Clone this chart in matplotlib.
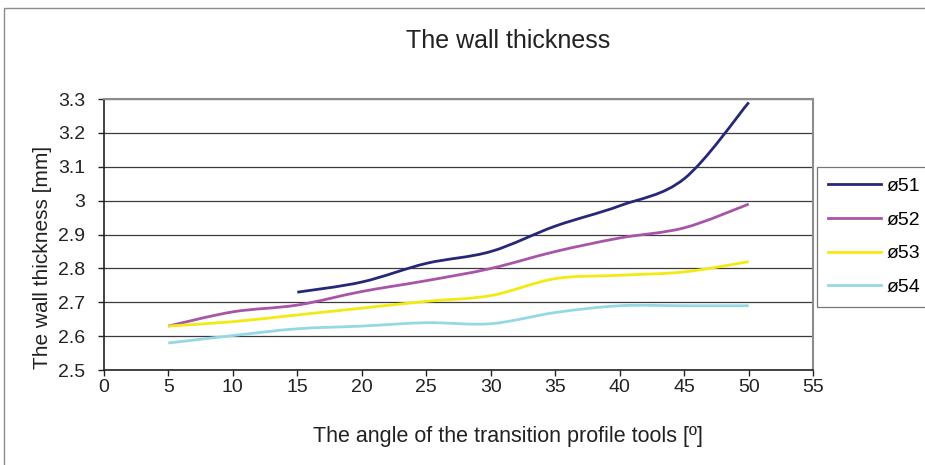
import numpy as np
import matplotlib.pyplot as plt
from matplotlib.path import Path
from matplotlib.patches import PathPatch, Rectangle
from matplotlib.lines import Line2D

plt.rcParams['font.family'] = ['Liberation Sans', 'DejaVu Sans']

# Dữ liệu
angles = [5, 10, 15, 20, 25, 30, 35, 40, 45, 50]
angles_51 = [15, 20, 25, 30, 35, 40, 45, 50]
d51 = [2.73, 2.76, 2.815, 2.85, 2.925, 2.985, 3.065, 3.29]
d52 = [2.63, 2.672, 2.692, 2.732, 2.764, 2.80, 2.85, 2.89, 2.92, 2.99]
d53 = [2.63, 2.643, 2.663, 2.683, 2.703, 2.72, 2.77, 2.78, 2.79, 2.82]
d54 = [2.58, 2.602, 2.622, 2.63, 2.64, 2.637, 2.67, 2.69, 2.69, 2.69]
labels = ['ø51', 'ø52', 'ø53', 'ø54']
colors = ['#27277a', '#a855a8', '#f2ea10', '#94d8e4']


# Đường cong mượt kiểu Excel (Bezier Catmull-Rom)
def smooth_path(xs, ys):
    p = np.column_stack([xs, ys]).astype(float)
    p_ext = np.vstack([p[0], p, p[-1]])
    verts = [p[0]]
    codes = [Path.MOVETO]
    for i in range(1, len(p_ext) - 2):
        p0, p1, p2, p3 = p_ext[i - 1], p_ext[i], p_ext[i + 1], p_ext[i + 2]
        c1 = p1 + (p2 - p0) / 6.0
        c2 = p2 - (p3 - p1) / 6.0
        verts += [c1, c2, p2]
        codes += [Path.CURVE4] * 3
    return Path(verts, codes)


fig = plt.figure(figsize=(9.25, 4.65), dpi=100)
ax = fig.add_axes([0.1122, 0.204, 0.767, 0.583])

# Khung ngoài của biểu đồ
fig.patches.append(Rectangle((4 / 925, -0.1), 1.2, 1.1 - 8 / 465, transform=fig.transFigure,
                             fill=False, edgecolor='#8c8c8c', linewidth=1.0))

series = [(angles_51, d51), (angles, d52), (angles, d53), (angles, d54)]
for (xs, ys), c in zip(series, colors):
    ax.add_patch(PathPatch(smooth_path(xs, ys), facecolor='none', edgecolor=c,
                           linewidth=2.0, capstyle='butt', zorder=3))

ax.set_xlim(0, 55)
ax.set_ylim(2.5, 3.3)
ax.set_xticks(range(0, 56, 5))
ax.set_yticks(np.arange(2.5, 3.31, 0.1))
ax.set_yticklabels(['2.5', '2.6', '2.7', '2.8', '2.9', '3', '3.1', '3.2', '3.3'])
ax.tick_params(labelsize=14, length=4.5, width=1, colors='#222222')
ax.tick_params(axis='x', pad=2)
ax.tick_params(axis='y', pad=9)
ax.yaxis.grid(True, color='#3c3c3c', linewidth=0.9)
ax.set_axisbelow(True)

for s in ['top', 'right']:
    ax.spines[s].set_color('#8c8c8c')
    ax.spines[s].set_linewidth(1.5)
for s in ['left', 'bottom']:
    ax.spines[s].set_color('#222222')
    ax.spines[s].set_linewidth(1.2)

fig.text(508 / 925, 1 - 48 / 465, 'The wall thickness', fontsize=18, color='#222222',
         ha='center', va='baseline')
ax.set_xlabel('The angle of the transition profile tools [º]', fontsize=15.5, color='#222222')
ax.xaxis.set_label_coords(0.569, -0.205)
ax.set_ylabel('The wall thickness [mm]', fontsize=15, color='#222222')
ax.yaxis.set_label_coords(-0.073, 0.417)

handles = [Line2D([], [], color=c, linewidth=2.0) for c in colors]
leg = fig.legend(handles, labels, loc='upper left', bbox_to_anchor=(817 / 925, 1 - 167 / 465),
                 frameon=True, fancybox=False, edgecolor='#555555', fontsize=14,
                 handlelength=2.75, handletextpad=0.3, labelspacing=0.82,
                 borderpad=0.55, borderaxespad=0)
leg.get_frame().set_linewidth(0.9)

fig.savefig('out.png', dpi=100)
